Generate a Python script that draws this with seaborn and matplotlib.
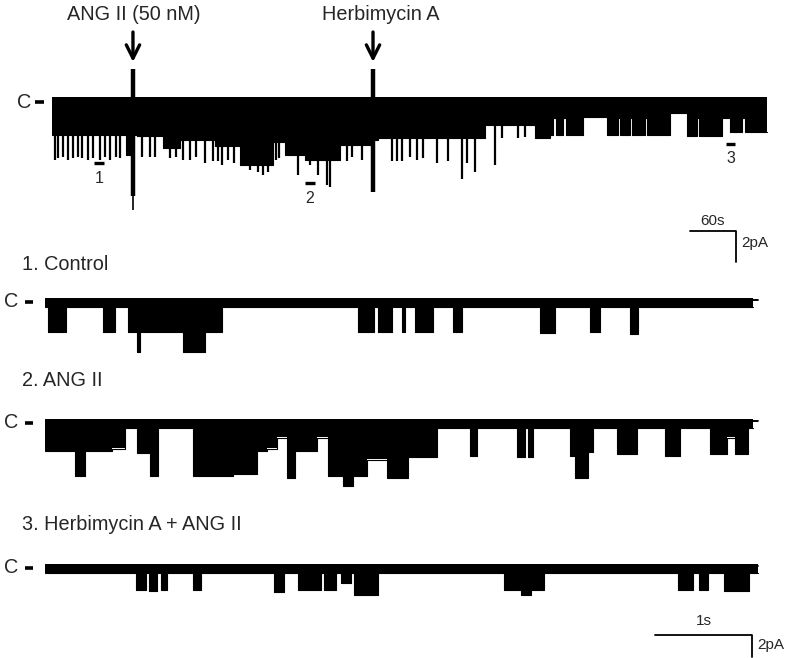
import numpy as np
import matplotlib
matplotlib.use('Agg')
import matplotlib.pyplot as plt
import seaborn as sns

# ---- overview recording (time in s, current in pA, closed level = 0) ----
# contiguous stretches of the compressed trace: edges and lower envelope
top_edges = [0, 96.5, 103.0, 110.9, 144.8, 167.0, 212.6, 245.2, 288.3, 303.9,
             330.0, 375.7, 417.4, 425.2, 564.8, 630.0, 649.6, 653.5, 657.4,
             666.5, 670.4, 692.6, 723.9, 738.3, 740.9, 753.9, 756.5, 773.5,
             776.1, 806.1, 828.3, 841.3, 843.9, 873.9, 884.3, 900.0, 903.9, 932.6]
top_depth = [-2.2, -3.5, -2.2, -2.25, -3.0, -2.5, -2.9, -4.1, -2.65, -3.5,
             -3.8, -2.85, -2.5, -2.4, -1.55, -2.4, -2.2, -1.1, -2.2,
             -1.1, -2.2, -1.05, -2.2, -1.1, -2.2, -1.1, -2.2, -1.1,
             -2.2, -0.8, -2.25, -1.1, -2.25, -1.1, -2.0, -1.1, -2.0]
# brief deep openings (spikes)
spike_t = [3.9, 7.8, 14.3, 20.9, 27.4, 33.9, 39.1, 47.0, 53.5, 62.6, 69.1, 75.7,
           83.5, 88.7, 117.4, 127.8, 134.3, 153.9, 161.7, 170.9, 180.0, 187.8,
           199.6, 210.0, 216.5, 221.7, 229.6, 237.4, 258.3, 268.7, 275.2, 281.7,
           292.2, 296.1, 307.8, 320.9, 336.5, 346.9, 358.7, 362.6, 369.1, 384.8,
           391.3, 404.3, 443.5, 450.0, 456.5, 466.9, 476.1, 483.9, 502.2, 516.5,
           534.8, 541.3, 551.7, 577.8, 587.0, 607.8, 616.9]
spike_depth = [-3.8, -3.7, -3.6, -3.8, -3.7, -3.6, -3.7, -3.8, -3.7, -3.8, -3.6, -3.8,
               -3.6, -3.7, -3.6, -3.6, -3.6, -3.7, -3.6, -3.8, -3.8, -3.6,
               -4.0, -3.9, -3.9, -4.1, -3.8, -4.0, -4.45, -4.6, -4.8, -4.6,
               -3.8, -3.7, -3.3, -4.8, -4.1, -4.8, -5.4, -5.55, -3.9, -3.9,
               -3.6, -3.8, -3.9, -3.9, -3.9, -3.6, -3.8, -3.7, -4.0, -3.9,
               -5.0, -4.0, -4.6, -4.1, -2.4, -2.4, -2.3]
# perfusion artefacts at drug application
drug_labels = ['ANG II (50 nM)', 'Herbimycin A']
drug_t = [105.6, 418.7]
drug_top = [2.06, 2.06]
drug_bottom = [-6.1, -5.9]
# expanded stretches marked on the overview
mark_labels = ['1', '2', '3']
mark_t = [61.3, 336.5, 885.0]
mark_y = [-4.0, -5.29, -2.77]

# ---- expanded sweeps: openings (start s, end s, lower edge pA) ----
ctrl_start = [0.03, 0.60, 0.86, 0.95, 0.98, 1.42, 1.65, 3.23, 3.43, 3.68, 3.81,
              4.21, 5.10, 5.62, 6.03]
ctrl_end = [0.22, 0.72, 0.95, 0.98, 1.42, 1.65, 1.82, 3.39, 3.58, 3.71, 4.00,
            4.30, 5.26, 5.72, 6.11]
ctrl_depth = [-2.9, -2.9, -2.9, -4.7, -2.9, -4.7, -2.9, -2.9, -2.9, -2.9, -2.9,
              -2.9, -3.0, -2.9, -3.1]

ang_start = [0.00, 0.31, 0.41, 0.69, 0.95, 1.08, 1.53, 1.94, 2.19, 2.29, 2.39,
             2.49, 2.58, 2.80, 2.92, 3.07, 3.18, 3.32, 3.53, 3.74, 4.38, 4.87,
             4.98, 5.41, 5.46, 5.60, 5.90, 6.39, 6.86, 7.03, 7.11]
ang_end = [0.31, 0.41, 0.69, 0.82, 1.08, 1.16, 1.94, 2.19, 2.29, 2.39, 2.49,
           2.58, 2.80, 2.92, 3.07, 3.18, 3.32, 3.53, 3.74, 4.04, 4.45, 4.95,
           5.03, 5.46, 5.60, 5.65, 6.10, 6.55, 7.03, 7.11, 7.25]
ang_depth = [-2.7, -5.0, -2.7, -2.5, -2.9, -5.0, -5.0, -4.8, -2.7, -2.5, -1.5,
             -5.2, -2.7, -1.5, -5.0, -5.9, -5.0, -3.5, -5.2, -3.3, -3.2, -3.3,
             -3.3, -3.2, -5.2, -2.8, -3.0, -3.2, -3.0, -1.5, -3.0]

herb_start = [0.94, 1.07, 1.20, 1.53, 2.36, 2.61, 2.88, 3.05, 3.19, 4.73, 4.91,
              5.01, 6.53, 6.74, 7.00]
herb_end = [1.04, 1.15, 1.26, 1.61, 2.46, 2.85, 3.00, 3.15, 3.43, 4.91, 5.01,
            5.14, 6.68, 6.84, 7.26]
herb_depth = [-2.2, -2.3, -2.2, -2.2, -2.4, -2.2, -2.2, -1.5, -2.6, -2.2, -2.6,
              -2.2, -2.2, -2.2, -2.3]

sweep_titles = ['1. Control', '2. ANG II', '3. Herbimycin A + ANG II']
sweep_end = [7.30, 7.30, 7.35]

CLOSED_TOP = 0.15     # upper edge of the closed-level noise band
CLOSED_LOW = -0.6     # lower edge of the closed-level noise band
W, H = 790, 658
FS = 14.3

sns.set_style('white')
plt.rcParams['font.family'] = ['Liberation Sans', 'DejaVu Sans']

fig = plt.figure(figsize=(W / 100, H / 100), dpi=100)


def add_axes_px(x0, y0, x1, y1):
    ax = fig.add_axes([x0 / W, 1 - y1 / H, (x1 - x0) / W, (y1 - y0) / H])
    ax.axis('off')
    return ax


def step_from_events(starts, ends, depths, t_end):
    """Edges and levels of a piecewise-constant trace (closed between events)."""
    edges, levels = [0.0], []
    for s, e, d in zip(starts, ends, depths):
        if s > edges[-1]:
            levels.append(CLOSED_LOW)
            edges.append(s)
        levels.append(d)
        edges.append(e)
    if t_end > edges[-1]:
        levels.append(CLOSED_LOW)
        edges.append(t_end)
    return np.array(edges), np.array(levels)


def draw_envelope(ax, edges, levels, top):
    x = np.repeat(edges, 2)[1:-1]
    y = np.repeat(levels, 2)
    ax.fill_between(x, top, y, color='k', lw=0, zorder=2)
    sns.lineplot(x=x, y=y, estimator=None, sort=False, color='k', lw=0.8,
                 ax=ax, zorder=3)


def c_label(y_px, x_c, x_d0, x_d1):
    fig.text(x_c / W, 1 - y_px / H, 'C', ha='center', va='center', fontsize=FS)
    fig.add_artist(plt.Line2D([x_d0 / W, x_d1 / W], [1 - y_px / H] * 2,
                              lw=2.6, color='k', solid_capstyle='butt'))


# ---------------- overview trace ----------------
ax0 = add_axes_px(52, 60, 770, 270)
ax0.set_xlim(0, 936.5)
ax0.set_ylim(-10.9, 2.645)

draw_envelope(ax0, np.array(top_edges, float), np.array(top_depth), CLOSED_TOP + 0.1)
ax0.vlines(spike_t, 0, spike_depth, color='k', lw=1.6)

for lab, t, top, bot in zip(drug_labels, drug_t, drug_top, drug_bottom):
    ax0.vlines(t, bot, top, color='k', lw=3.2)
    ax0.annotate('', xy=(t, 2.52), xytext=(t, 4.45), annotation_clip=False,
                 arrowprops=dict(arrowstyle='->', lw=2.4, color='k',
                                 mutation_scale=24, shrinkA=0, shrinkB=0))
    ax0.text(t + (1 if lab.startswith('ANG') else 10), 5.55, lab, ha='center',
             va='center', fontsize=FS, clip_on=False)
ax0.vlines(drug_t[0], -7.0, drug_bottom[0], color='k', lw=1.2)

for lab, t, y in zip(mark_labels, mark_t, mark_y):
    ax0.plot([t - 6.5, t + 6.5], [y, y], color='k', lw=2.4, solid_capstyle='butt')
    ax0.text(t, y - 0.97, lab, ha='center', va='center', fontsize=11.5)

# 60 s / 2 pA scale bar
ax0.plot([832, 892, 892], [-8.39, -8.39, -10.39], color='k', lw=1.3)
ax0.text(862, -7.74, '60s', ha='center', va='center', fontsize=11)
ax0.text(898.7, -9.16, '2pA', ha='left', va='center', fontsize=11)
c_label(102, 24.5, 35, 44)

# ---------------- expanded sweeps ----------------
sweeps = [(ctrl_start, ctrl_end, ctrl_depth), (ang_start, ang_end, ang_depth),
          (herb_start, herb_end, herb_depth)]
boxes = [(285, 365, 300), (405, 495, 421), (550, 665, 566)]
title_y = [265, 380, 524]

for i, ((st, en, dp), (y0, y1, base)) in enumerate(zip(sweeps, boxes)):
    ax = add_axes_px(45, y0, 770, y1)
    ax.set_xlim(0, 725 / 97)
    ax.set_ylim(-(y1 - base) / 11, (base - y0) / 11)
    ax.hlines(0, 0, 7.39, colors='k', lw=1.4, linestyles=(0, (4, 2.6)), zorder=1)
    edges, levels = step_from_events(st, en, dp, sweep_end[i])
    draw_envelope(ax, edges, levels, CLOSED_TOP)
    fig.text(22 / W, 1 - title_y[i] / H, sweep_titles[i], ha='left', va='center',
             fontsize=FS)
    c_label(base + 1.5, 11, 25, 33)
    if i == 2:
        ax.plot([6.29, 7.29, 7.29], [-6.27, -6.27, -8.27], color='k', lw=1.3,
                clip_on=False)
        ax.text(6.79, -5.0, '1s', ha='center', va='center', fontsize=11)
        ax.text(7.34, -7.18, '2pA', ha='left', va='center', fontsize=11)

fig.savefig('out.png', dpi=100)
